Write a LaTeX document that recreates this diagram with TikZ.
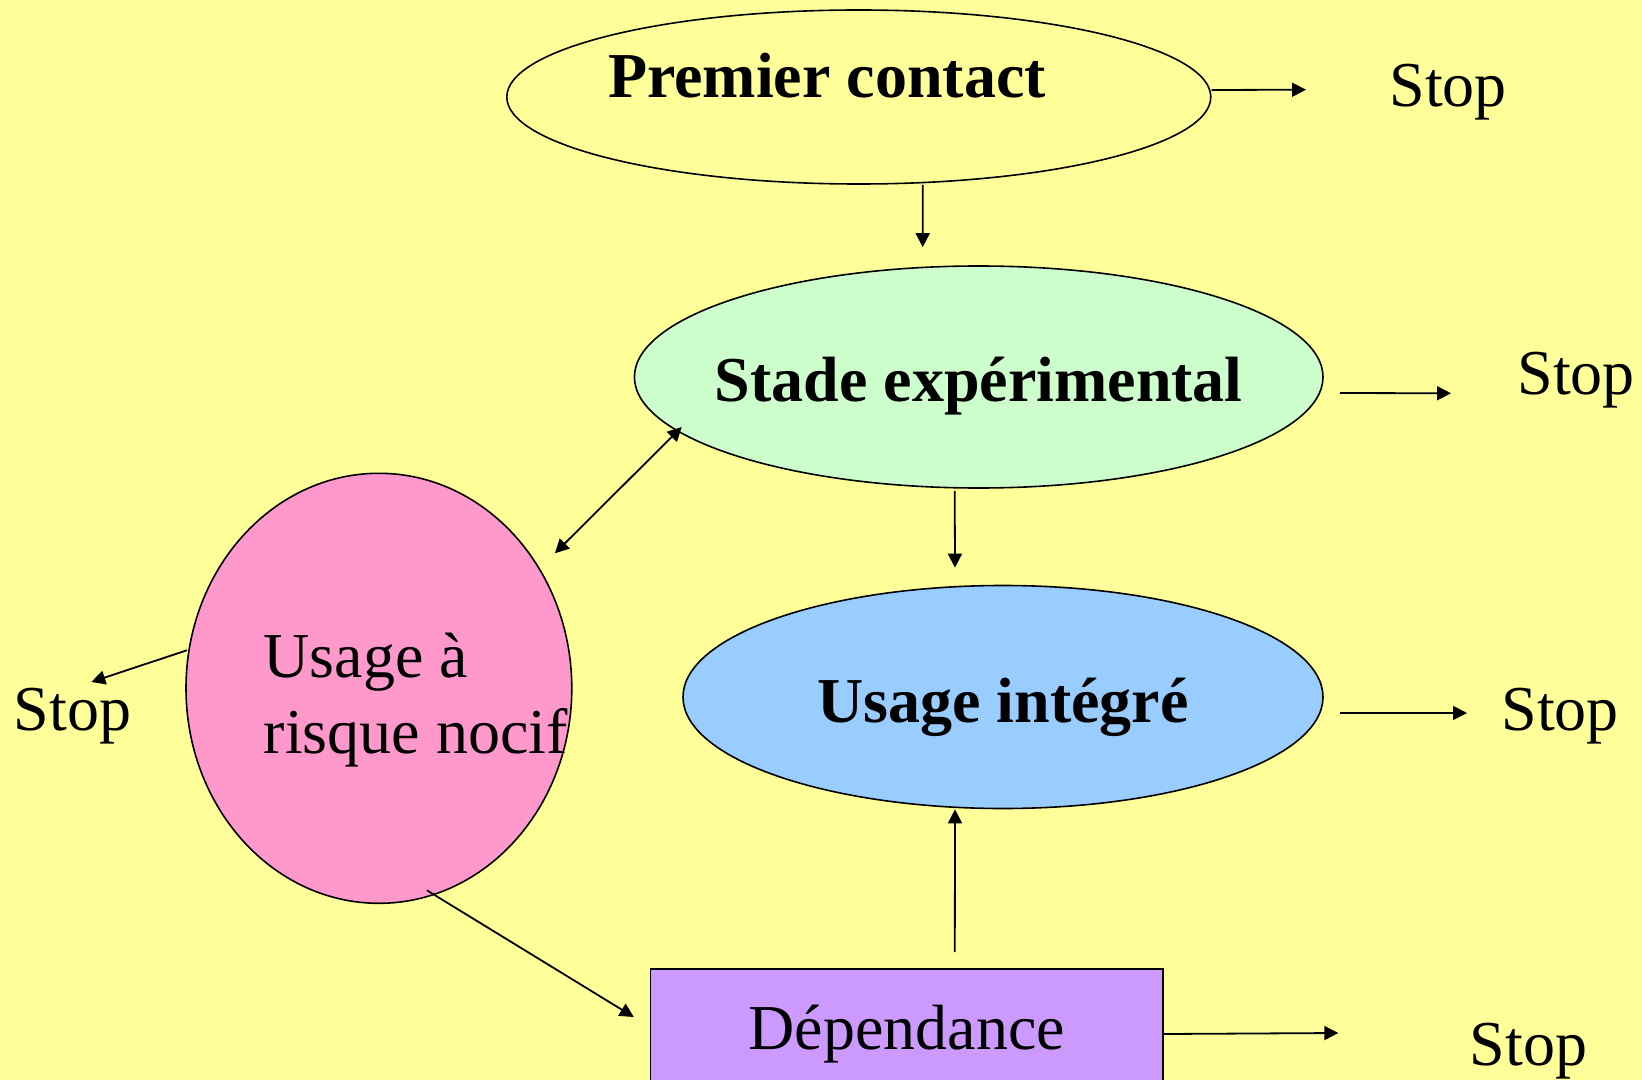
\documentclass[tikz,border=0pt]{standalone}
\usepackage{fontspec}
\setmainfont{Liberation Serif}
\usetikzlibrary{arrows.meta,shapes.geometric}
\definecolor{fond}{HTML}{FFFF99}
\definecolor{vert}{HTML}{CCFFCC}
\definecolor{bleu}{HTML}{99CCFF}
\definecolor{rose}{HTML}{FF99CC}
\definecolor{mauve}{HTML}{CC99FF}
\tikzstyle{stage}=[ellipse,draw=black,line width=0.8pt,inner sep=0pt]
\tikzstyle{box}=[rectangle,draw=black,line width=0.8pt,fill=mauve,inner sep=0pt,
font=\fontsize{32}{37.85}\selectfont]
\tikzstyle{txt}=[inner sep=0pt,font=\fontsize{32}{37.85}\selectfont]
\tikzstyle{btxt}=[inner sep=0pt,font=\fontsize{32}{37.85}\selectfont\bfseries]
\tikzstyle{link}=[line width=0.9pt]

\begin{document}
\begin{tikzpicture}[x=0.5pt,y=-0.5pt,>={Triangle[length=7pt,width=7pt]}]
            \useasboundingbox (0,0) rectangle (1642,1080);
            \clip (0,0) rectangle (1642,1080);
            \fill[fond] (0,0) rectangle (1642,1080);

            % STAGES

            \node[stage,fill=fond,minimum width=352pt,minimum height=87pt] (pc) at (858.8,97) {};
            \node[stage,fill=vert,minimum width=344.3pt,minimum height=111pt] (se) at (978.7,377) {};
            \node[stage,fill=bleu,minimum width=320pt,minimum height=111.5pt] (ui) at (1003,697) {};
            \node[stage,fill=rose,minimum width=192.9pt,minimum height=215pt] (nc) at (378.9,688.3) {};
            \node[box,minimum width=256.2pt,minimum height=65pt] (dep) at (906.8,1034) {Dépendance};

            \node[btxt,anchor=base west] (pctxt) at (607.7,97.3) {Premier contact};
            \node[btxt,anchor=base] (setxt) at (978.7,401.7) {Stade expérimental};
            \node[btxt,anchor=base] (uitxt) at (1003,722) {Usage intégré};
            \node[txt,anchor=north west,align=left] (nctxt) at (263.3,632.5) {Usage à\\risque nocif};

            % STOPS

            \node[txt,anchor=base west] (s1) at (1389,106.7) {Stop};
            \node[txt,anchor=base west] (s2) at (1517,394.3) {Stop};
            \node[txt,anchor=base west] (s3) at (1501,730) {Stop};
            \node[txt,anchor=base west] (s4) at (13.3,730) {Stop};
            \node[txt,anchor=base west] (s5) at (1469.3,1065) {Stop};

            % Connections

            \path[link,->] ([shift={(0,-7)}]pc.east) edge ([shift={(-83,-17)}]s1.base west);
            \path[link,->] ([shift={(64,0)}]pc.south) edge ([shift={(-56,-18)}]se.north);
            \path[link,->] ([shift={(16,16)}]se.east) edge ([shift={(-66,-1)}]s2.base west);
            \path[link,<->] ([shift={(-297,50)}]se.center) edge ([shift={(176,-135)}]nc.center);
            \path[link,->] ([shift={(-24,2)}]se.south) edge ([shift={(-48,-17)}]ui.north);
            \path[link,->] ([shift={(16,16)}]ui.east) edge ([shift={(-34,-17)}]s3.base west);
            \path[link,->] ([shift={(-192,-38)}]nc.center) edge ([shift={(78,-48)}]s4.base west);
            \path[link,->] ([shift={(48,202)}]nc.center) edge ([shift={(-16,-17)}]dep.west);
            \path[link,->] ([shift={(48,-16)}]dep.north) edge ([shift={(-48,0)}]ui.south);
            \path[link,->] (dep.east) edge ([shift={(-131,-32)}]s5.base west);

\end{tikzpicture}
\end{document}
